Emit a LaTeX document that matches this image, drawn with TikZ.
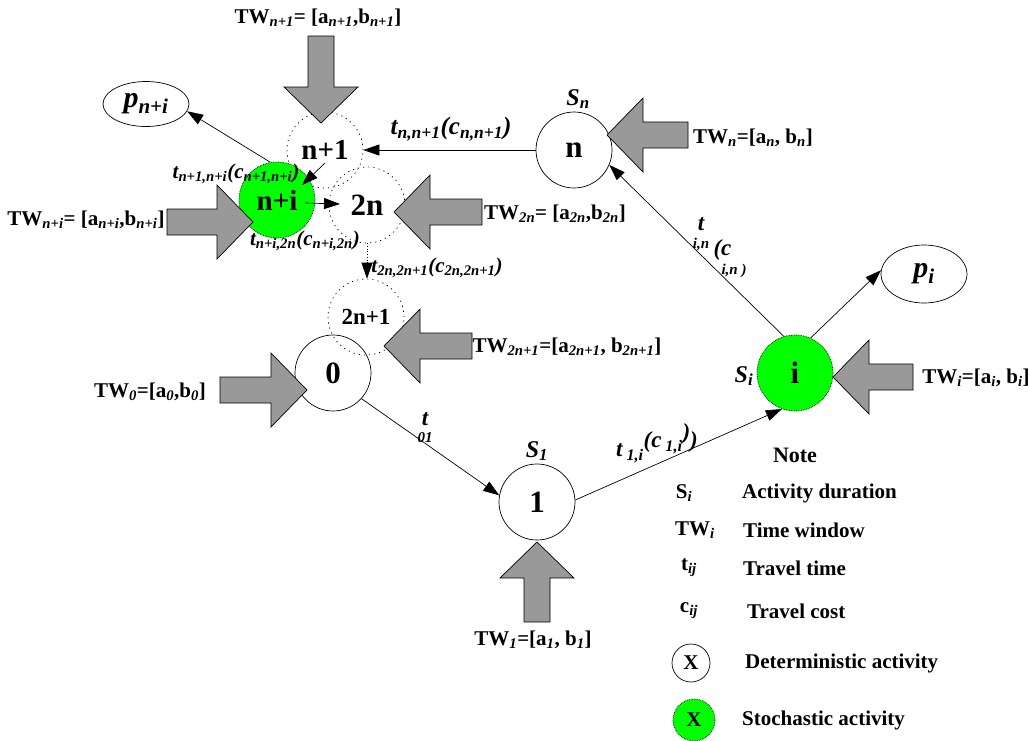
\documentclass[tikz,border=0pt]{standalone}
\usepackage{fontspec}
\setmainfont{Liberation Serif}
\usetikzlibrary{arrows.meta,calc,shapes.geometric}
\definecolor{grn}{RGB}{0,255,0}
\definecolor{blkgray}{RGB}{153,153,153}
\newcommand\sbs[1]{\textsubscript{\textit{#1}}}
\newcommand\fs[1]{\fontsize{#1}{#1}\selectfont}
\begin{document}
\begin{tikzpicture}[x=1pt,y=-1pt,
  act/.style={circle,draw,line width=0.7pt,minimum size=76pt,inner sep=0pt,font=\bfseries\fs{31}},
  dact/.style={act,dash pattern=on 1.2pt off 4pt},
  sact/.style={act,fill=grn,densely dotted},
  pnode/.style={ellipse,draw,line width=0.7pt,inner sep=0pt,font=\bfseries\itshape\fs{30}},
  elab/.style={font=\bfseries\itshape\fs{21},inner sep=1pt},
  slab/.style={font=\bfseries\itshape\fs{24},inner sep=1pt},
  twl/.style={font=\bfseries\fs{21},inner sep=1pt},
  lgs/.style={font=\bfseries\fs{21},inner sep=0pt},
  lgt/.style={anchor=west,font=\bfseries\fs{21},inner sep=0pt},
  conn/.style={line width=0.7pt,-{Triangle[length=16pt,width=11pt]}},
  blkarrow/.style={draw=black,line width=0.7pt,fill=blkgray},
  pics/blk/.style={code={\draw[blkarrow] (0,0) -- (-36,-37) -- (-36,-13) -- (-#1,-13) -- (-#1,13) -- (-36,13) -- (-36,37) -- cycle;}}
]
\fill[white] (0,0) rectangle (1029,740);
\useasboundingbox (0,0) rectangle (1029,740);

% activity nodes
\node[dact,font=\bfseries\fs{29}] (n1) at (325,150) {n+1};
\node[dact] (n2) at (367,205) {2n};
\node[sact,font=\bfseries\fs{29}] (npi) at (277,200) {n+i};
\node[dact,font=\bfseries\fs{23}] (n2p1) at (366,317) {2n+1};
\node[act] (n0) at (333,373) {0};
\node[act] (n1st) at (537,502) {1};
\node[act] (nn) at (574,150) {n};
\node[sact] (ni) at (795,373) {i};
\node[pnode,minimum width=86pt,minimum height=45pt] (pni) at (146,104) {p\textsubscript{n+i}};
\node[pnode,minimum width=86pt,minimum height=58pt] (pi) at (924,274) {p\textsubscript{i}};

% block arrows (time windows)
\pic[rotate=-90] at (321,123) {blk=87};
\pic at (253,222) {blk=86};
\pic[rotate=180] at (394,212) {blk=88};
\pic[rotate=180] at (607,135) {blk=81};
\pic[rotate=180] at (384,346) {blk=88};
\pic at (307,390) {blk=87};
\pic[rotate=90] at (537,542) {blk=80};
\pic[rotate=180] at (833,377) {blk=80};

% time window labels
\node[twl] (tw1) at (318,18) {TW\sbs{n+1}= [a\sbs{n+1},b\sbs{n+1}]};
\node[twl] (twni) at (86,220) {TW\sbs{n+i}= [a\sbs{n+i},b\sbs{n+i}]};
\node[twl] (tw2n) at (555,214) {TW\sbs{2n}= [a\sbs{2n},b\sbs{2n}]};
\node[twl] (twn) at (753,138) {TW\sbs{n}=[a\sbs{n}, b\sbs{n}]};
\node[twl] (tw2n1) at (567,347) {TW\sbs{2n+1}=[a\sbs{2n+1}, b\sbs{2n+1}]};
\node[twl] (tw0) at (150,392) {TW\sbs{0}=[a\sbs{0},b\sbs{0}]};
\node[twl] (tw1st) at (533,640) {TW\sbs{1}=[a\sbs{1}, b\sbs{1}]};
\node[twl] (twi) at (976,378) {TW\sbs{i}=[a\sbs{i}, b\sbs{i}]};

% durations
\node[slab] (sn) at (578,99) {S\textsubscript{n}};
\node[slab] (s1) at (537,451) {S\textsubscript{1}};
\node[slab] (si) at (744,376) {S\textsubscript{i}};

% connectors
\draw[conn] (nn.west) -- (n1.east);
\draw[conn] ($(n1)+(0,13)$) -- ($(npi)+(25,-15)$);
\draw[conn] ($(npi)+(28,3)$) -- ($(n2)+(-27,-1)$);
\draw[conn,dotted] (n2.south) -- (n2.south |- n2p1.north);
\draw[conn] (npi.100) -- (pni.-10);
\draw[conn] (ni.107) -- (nn.-23);
\draw[conn] (ni.66) -- (pi.175);
\draw[conn] (n0.-42) -- (n1st.170);
\draw[conn] (n1st.3) -- (ni.-110);

% edge labels
\node[elab,font=\bfseries\itshape\fs{25}] (lnn1) at (451,129) {t\textsubscript{n,n+1}(c\textsubscript{n,n+1})};
\node[elab] (ln1ni) at (236,174) {t\textsubscript{n+1,n+i}(c\textsubscript{n+1,n+i})};
\node[elab] (lni2n) at (305,241) {t\textsubscript{n+i,2n}(c\textsubscript{n+i,2n})};
\node[elab] (l2n) at (437,268) {t\textsubscript{2n,2n+1}(c\textsubscript{2n,2n+1})};
\node[elab,align=center,font=\bfseries\itshape\fs{23}] (lin1) at (701,234) {t\\[-5pt]{\fs{15}i,n}};
\node[elab,align=left,font=\bfseries\itshape\fs{23}] (lin2) at (730,259) {(c\\[-4pt]\hspace*{8pt}{\fs{15}i,n )}};
\node[elab,align=center,font=\bfseries\itshape\fs{23}] (l01) at (425,428) {t\\[-6pt]{\fs{15}01}};
\node[elab,font=\bfseries\itshape\fs{23}] (l1i) at (657,443) {t\textsubscript{ 1,i}\raisebox{9pt}{(c\textsubscript{ 1,i}\raisebox{8pt}{)})}};

% legend
\node[font=\bfseries\fs{22}] (note) at (795,455) {Note};
\node[lgs] (lgS) at (684,493) {S\sbs{i}};
\node[lgt] (lgSt) at (742,493) {Activity duration};
\node[lgs] (lgT) at (695,530) {TW\sbs{i}};
\node[lgt] (lgTt) at (743,530) {Time window};
\node[lgs] (lgt1) at (689,568) {t\sbs{ij}};
\node[lgt] (lgtt) at (743,568) {Travel time};
\node[lgs] (lgc) at (689,611) {c\sbs{ij}};
\node[lgt] (lgct) at (747,611) {Travel cost};
\node[act,minimum size=38pt,font=\bfseries\fs{21}] (lgdet) at (691,663) {X};
\node[lgt] (lgdt) at (745,663) {Deterministic activity};
\node[sact,minimum size=42pt,font=\bfseries\fs{21}] (lgsto) at (694,720) {X};
\node[lgt] (lgst) at (742,720) {Stochastic activity};
\end{tikzpicture}
\end{document}
